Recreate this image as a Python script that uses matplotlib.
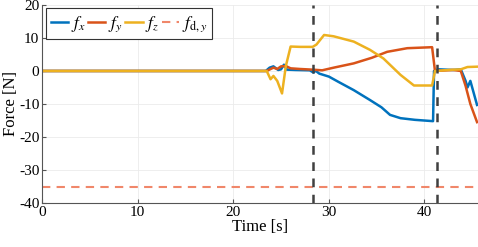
import matplotlib.pyplot as plt

plt.rcParams['font.family'] = ['Liberation Serif', 'DejaVu Serif']
plt.rcParams['mathtext.fontset'] = 'stix'
plt.rcParams['axes.unicode_minus'] = False

# Force components
t_fx = [0, 23.4, 23.8, 24.2, 24.7, 25.0, 25.3, 25.6, 26.5, 28.0, 28.4, 28.6, 29.0, 30.0,
        31.0, 32.6, 34.3, 35.5, 36.4, 37.5, 39.0, 40.9, 41.0, 41.5, 43.0, 43.8, 44.3,
        44.5, 44.8, 45.5]
fx = [0, 0, 1.0, 1.4, 0.3, 0.5, 1.9, 0.4, 0.3, 0.2, -0.5, 0.1, -0.8, -1.7,
      -3.3, -5.8, -8.8, -11.0, -13.3, -14.3, -14.8, -15.2, 0, 0.5, 0.3, 0.5, -3.0,
      -5.0, -3.0, -10.3]

t_fy = [0, 23.5, 24.2, 24.6, 25.0, 25.5, 26.0, 27.0, 28.3, 29.3, 30.5, 32.6, 34.5,
        36.1, 38.2, 40.8, 41.1, 43.0, 43.8, 44.3, 44.8, 45.5]
fy = [0, 0, 1.0, 0.6, 1.4, 1.5, 0.8, 0.6, 0.4, 0.2, 1.0, 2.3, 4.0,
      5.8, 6.9, 7.2, 0, 0.3, 0.0, -4.5, -10.0, -15.5]

t_fz = [0, 23.5, 23.9, 24.2, 24.6, 25.1, 25.5, 26.0, 27.0, 28.3, 28.7, 29.5, 30.5,
        32.6, 34.3, 35.7, 37.5, 38.9, 40.8, 41.1, 42.5, 43.8, 44.5, 45.5]
fz = [0, 0, -2.5, -1.5, -3.0, -6.8, 1.5, 7.4, 7.3, 7.3, 8.0, 10.9, 10.5,
      8.9, 6.4, 3.8, -1.2, -4.4, -4.4, 0.0, 0.3, 0.5, 1.2, 1.3]

fd_y = -35
events = [28.3, 41.3]

fig = plt.figure(figsize=(4.78, 2.47), dpi=100)
ax = fig.add_axes([0.088, 0.178, 0.912, 0.802])

ax.plot(t_fx, fx, color='#0072BD', lw=1.8, label=r'$f_x$')
ax.plot(t_fy, fy, color='#D95319', lw=1.8, label=r'$f_y$')
ax.plot(t_fz, fz, color='#EDB120', lw=1.8, label=r'$f_z$')
ax.axhline(fd_y, color='#F0876A', lw=1.5, ls=(0, (4, 3)), label=r'$f_{\mathrm{d},y}$')
for e in events:
    ax.axvline(e, color='#404040', lw=1.8, ls=(0, (3.5, 3)))

ax.set_xlim(0, 45.6)
ax.set_ylim(-40, 20)
ax.set_xticks([0, 10, 20, 30, 40])
ax.set_yticks([-40, -30, -20, -10, 0, 10, 20])
ax.grid(True, color='#ebebeb', lw=0.6)
ax.set_axisbelow(True)
ax.tick_params(direction='in', length=3, labelsize=11, color='#555555', pad=2)
for s in ['left', 'bottom']:
    ax.spines[s].set_color('#555555')
for s in ['top', 'right']:
    ax.spines[s].set_visible(False)
ax.set_xlabel('Time [s]', fontsize=12, labelpad=0)
ax.set_ylabel('Force [N]', fontsize=12, labelpad=0)

leg = ax.legend(loc='upper left', ncol=4, fontsize=12.5, handlelength=1.0,
                handletextpad=0.15, columnspacing=0.15, borderpad=0.3,
                fancybox=False, framealpha=1, borderaxespad=0.2)
leg.get_frame().set_edgecolor('#333333')
leg.get_frame().set_linewidth(0.8)

fig.savefig('out.png', dpi=100, facecolor='white')
